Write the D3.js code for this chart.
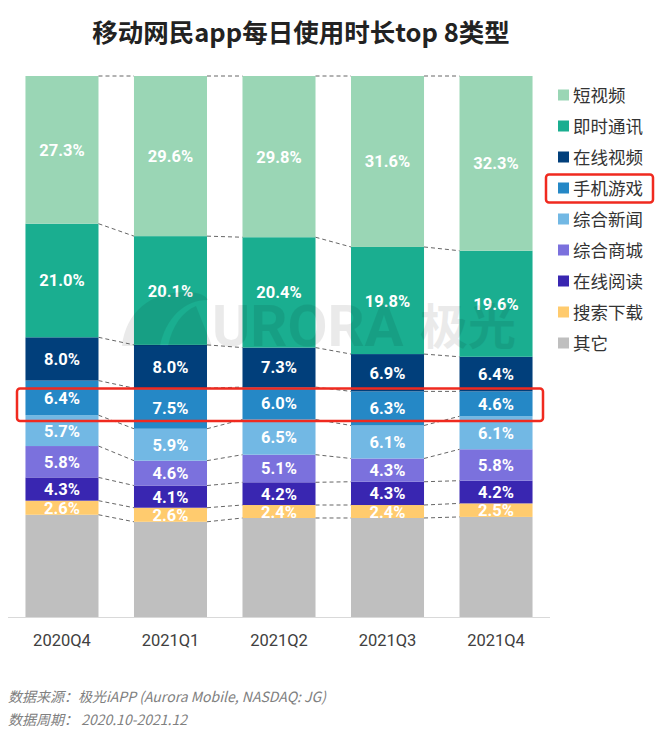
<!DOCTYPE html>
<html><head><meta charset="utf-8">
<script src="https://cdn.jsdelivr.net/npm/d3@7"></script>
<style>body{margin:0;background:#fff;}svg{display:block;}</style>
</head><body>
<script>
const categories = ["2020Q4","2021Q1","2021Q2","2021Q3","2021Q4"];
const seriesNames = ["短视频","即时通讯","在线视频","手机游戏","综合新闻","综合商城","在线阅读","搜索下载","其它"];
const shortVideo = [27.3,29.6,29.8,31.6,32.3];
const instantMsg = [21.0,20.1,20.4,19.8,19.6];
const onlineVideo = [8.0,8.0,7.3,6.9,6.4];
const mobileGame = [6.4,7.5,6.0,6.3,4.6];
const news = [5.7,5.9,6.5,6.1,6.1];
const mall = [5.8,4.6,5.1,4.3,5.8];
const reading = [4.3,4.1,4.2,4.3,4.2];
const searchDl = [2.6,2.6,2.4,2.4,2.5];
const others = [18.9,17.6,18.3,18.3,18.5];
const colors = ["#9ad6b5","#1aae90","#013f7b","#2588c6","#72b8e4","#7b71dd","#3926b1","#ffcb6e","#bfbfbf"];
const seriesValues = [shortVideo,instantMsg,onlineVideo,mobileGame,news,mall,reading,searchDl,others];

const W=661,H=739;
const svg=d3.select("body").append("svg").attr("width",W).attr("height",H);
const cjk="'Noto Sans CJK SC','Noto Sans',sans-serif";
const lat="Roboto,'Noto Sans',sans-serif";

svg.append("text").attr("x",301).attr("y",42).attr("text-anchor","middle")
  .attr("font-family",cjk).attr("font-weight","bold").attr("font-size",25.5).attr("fill","#222")
  .text("移动网民app每日使用时长top 8类型");

const x=d3.scaleBand().domain(categories).range([8,550]).paddingInner(0.327).paddingOuter(0.161);
const y=d3.scaleLinear().domain([0,100]).range([617,76]);

const rows=categories.map((c,i)=>{const o={cat:c};seriesNames.forEach((s,j)=>o[s]=seriesValues[j][i]);return o;});
const stack=d3.stack().keys(seriesNames.slice().reverse());
const stacked=stack(rows);

// bars
const g=svg.append("g");
stacked.forEach(layer=>{
  const idx=seriesNames.indexOf(layer.key);
  g.selectAll(null).data(layer).enter().append("rect")
    .attr("x",d=>x(d.data.cat)).attr("width",x.bandwidth())
    .attr("y",d=>y(d[1])).attr("height",d=>y(d[0])-y(d[1]))
    .attr("fill",colors[idx]);
});

// watermark (on top, faint)
const wm=svg.append("g").attr("opacity",0.08);
wm.append("path").attr("d","M122,346 C126,312 150,292 186,292 C200,292 206,296 208,300 C184,300 166,318 160,346 Z").attr("fill","#000");
wm.append("path").attr("d","M168,346 C172,326 182,312 196,306 L212,346 Z").attr("fill","#000");
wm.append("text").attr("x",212).attr("y",346).attr("font-family",lat)
  .attr("font-weight","bold").attr("font-size",58).attr("fill","#000").text("URORA");
wm.append("text").attr("x",420).attr("y",344).attr("font-family",cjk)
  .attr("font-weight","bold").attr("font-size",48).attr("fill","#000").text("极光");

// connectors
stacked.forEach(layer=>{
  for(let i=0;i<categories.length-1;i++){
    const a=layer[i],b=layer[i+1];
    svg.append("line").attr("x1",x(categories[i])+x.bandwidth()).attr("x2",x(categories[i+1]))
      .attr("y1",y(a[1])).attr("y2",y(b[1]))
      .attr("stroke","#666").attr("stroke-width",1).attr("stroke-dasharray","4,3");
  }
});

// labels
stacked.forEach(layer=>{
  if(layer.key==="其它") return;
  g.selectAll(null).data(layer).enter().append("text")
    .attr("x",d=>x(d.data.cat)+x.bandwidth()/2)
    .attr("y",d=>(y(d[0])+y(d[1]))/2+6)
    .attr("text-anchor","middle").attr("font-family",lat)
    .attr("font-weight","bold").attr("font-size",16.5).attr("fill","#fff")
    .text(d=>(d[1]-d[0]).toFixed(1)+"%");
});

// axis
const ax=svg.append("g").attr("transform","translate(0,617)")
  .call(d3.axisBottom(x).tickSize(0).tickPadding(17));
ax.select(".domain").attr("stroke","#d9d9d9").attr("d","M8,0.5H550");
ax.selectAll("text").attr("font-family",lat).attr("font-size",16.5).attr("fill","#404040");

// legend
const lg=svg.append("g");
seriesNames.forEach((s,i)=>{
  const cy=95+i*31;
  lg.append("rect").attr("x",558).attr("y",cy-5.5).attr("width",11).attr("height",11).attr("fill",colors[i]);
  lg.append("text").attr("x",573).attr("y",cy+6.5).attr("font-family",cjk).attr("font-size",17.5)
    .attr("fill","#333").text(s);
});

// highlight boxes
svg.append("rect").attr("x",546).attr("y",174.5).attr("width",107).attr("height",28).attr("rx",3)
  .attr("fill","none").attr("stroke","#f02a1f").attr("stroke-width",2.5);
svg.append("rect").attr("x",17).attr("y",388.5).attr("width",526).attr("height",32.5).attr("rx",3)
  .attr("fill","none").attr("stroke","#f02a1f").attr("stroke-width",2.5);

// footer
svg.append("text").attr("x",8).attr("y",702).attr("font-family",cjk).attr("font-size",14)
  .attr("font-style","italic").attr("fill","#808080").text("数据来源：极光iAPP (Aurora Mobile, NASDAQ: JG)");
svg.append("text").attr("x",8).attr("y",725).attr("font-family",cjk).attr("font-size",14)
  .attr("font-style","italic").attr("fill","#808080").text("数据周期：  2020.10-2021.12");
</script>
</body></html>
